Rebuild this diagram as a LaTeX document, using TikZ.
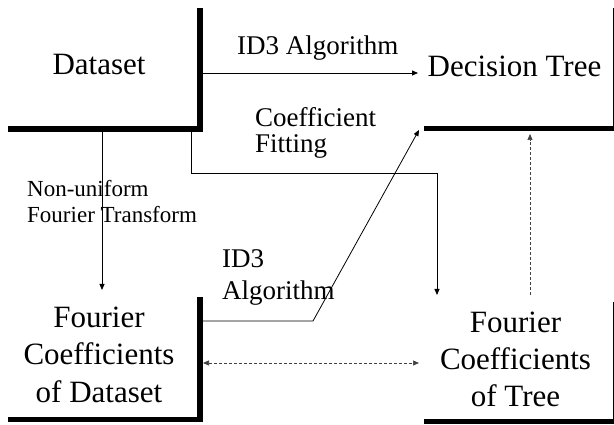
\documentclass[tikz,border=0pt]{standalone}
\usepackage{fontspec}
\setmainfont{Liberation Serif}
\usetikzlibrary{arrows.meta,calc}
\begin{document}
\begin{tikzpicture}[x=1pt,y=-1pt,
  frame/.style={draw=none,inner sep=0pt,outer sep=0pt},
  heavy/.style={line width=5.5pt,line join=miter},
  rim/.style={line width=0.9pt},
  tip/.style={-{Triangle[length=6pt,width=5pt]}},
  link/.style={tip,line width=0.8pt},
  hint/.style={line width=0.7pt,dash pattern=on 3pt off 2pt,draw=black!75},
  boxtext/.style={anchor=base,inner sep=0pt,font=\fontsize{31}{37.5}\selectfont},
  lbl/.style={anchor=base west,inner sep=0pt}]
\useasboundingbox (0,0) rectangle (614,425);

% box frames
\node[frame,minimum width=192pt,minimum height=121pt]   (ds)  at (104,68.5)    {};
\node[frame,minimum width=189pt,minimum height=120.5pt] (dt)  at (518.5,68.25) {};
\node[frame,minimum width=192pt,minimum height=122.5pt] (fcd) at (104,358.25)  {};
\node[frame,minimum width=189pt,minimum height=119.5pt] (fct) at (518.5,361.75){};

% shadowed edges
\draw[heavy] (ds.north east) -- (ds.south east) -- (ds.south west);
\draw[heavy] (fcd.north east) -- (fcd.south east) -- (fcd.south west);
\draw[heavy] (dt.south west) -- ($(dt.south east)+(3,0)$);
\draw[rim] (dt.north east) -- (dt.south east);
\draw[heavy] (fct.south west) -- ($(fct.south east)+(3,0)$);
\draw[rim] (fct.north east) -- (fct.south east);

% box texts
\node[boxtext] (dsT) at (99,75) {Dataset};
\node[boxtext] (dtT) at (514.5,77) {Decision Tree};
\node[boxtext] (fcdT) at (99,327) {\begin{tabular}[t]{@{}c@{}}Fourier\\Coefficients\\of Dataset\end{tabular}};
\node[boxtext] (fctT) at (515.5,332) {\begin{tabular}[t]{@{}c@{}}Fourier\\Coefficients\\of Tree\end{tabular}};

% connector labels
\node[lbl,font=\fontsize{27}{32}\selectfont] (id3a) at (237,55) {ID3 Algorithm};
\node[lbl,font=\fontsize{27}{25}\selectfont] (cfit) at (255,127) {\begin{tabular}[t]{@{}l@{}}Coefficient\\Fitting\end{tabular}};
\node[lbl,font=\fontsize{23}{26}\selectfont] (nuft) at (27,197) {\begin{tabular}[t]{@{}l@{}}Non-uniform\\Fourier Transform\end{tabular}};
\node[lbl,font=\fontsize{27}{32}\selectfont] (id3b) at (222,268) {\begin{tabular}[t]{@{}l@{}}ID3\\Algorithm\end{tabular}};

% connectors
\draw[link] ($(ds.east)+(0,4.5)$) -- ($(dt.west)+(-6,4.75)$);
\draw[link,shorten >=7pt] ($(ds.south east)+(-9,0)$) -- ++(0,44) -| ($(fct.north west)+(13,0)$);
\draw[link,shorten >=7pt] ($(ds.south)+(-2,0)$) -- ($(fcd.north)+(-2,0)$);
\draw[link] ($(fcd.east)+(0,-37.25)$) -- ++(113,0) -- ($(dt.south west)+(-5,1.5)$);
\draw[hint,{Triangle[length=6pt,width=5pt]}-{Triangle[length=6pt,width=5pt]}] ($(fcd.east)+(3,4.75)$) -- ($(fcd.east -| fct.west)+(-5,4.75)$);
\draw[hint,tip] ($(fct.north)+(11.5,-7)$) -- ($(dt.south)+(11.5,5.5)$);
\end{tikzpicture}
\end{document}
